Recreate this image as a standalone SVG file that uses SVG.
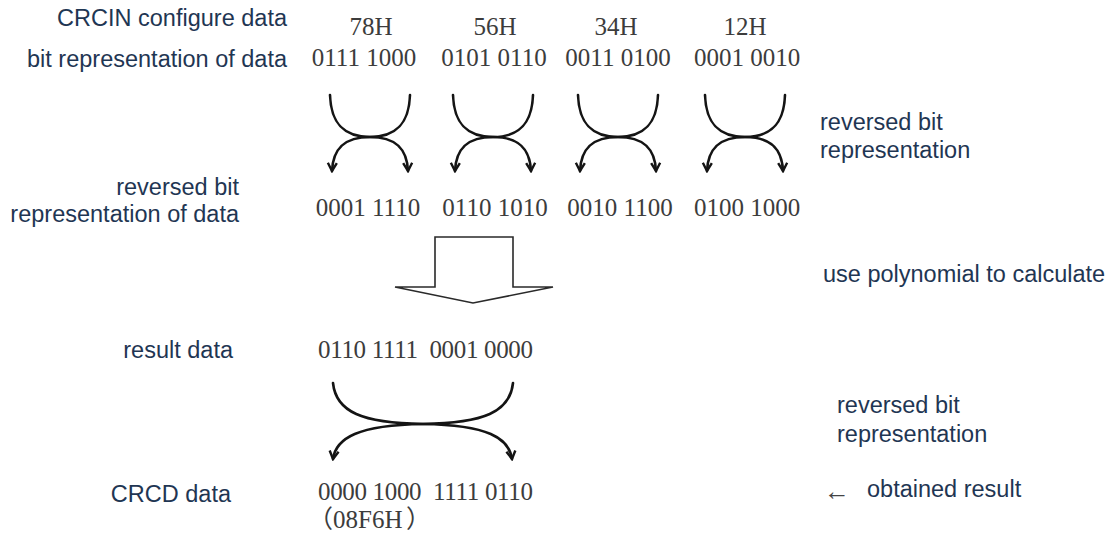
<svg xmlns="http://www.w3.org/2000/svg" width="1117" height="540" viewBox="0 0 1117 540">
<style>
.lbl{font-family:"Liberation Sans",Arial,sans-serif;font-size:23.5px;fill:#1f3653}
.num{font-family:"Liberation Serif","Noto Sans CJK SC",serif;font-size:25px;fill:#3c3c3c}
.pre{white-space:pre}
.cv{fill:none;stroke:#141414;stroke-width:2.6;stroke-linecap:round;marker-end:url(#ah)}
</style>
<defs>
<marker id="ah" viewBox="0 0 12 12" refX="10" refY="6" markerWidth="12" markerHeight="12" markerUnits="userSpaceOnUse" orient="auto">
<path d="M2,1.5 L10,6 L2,10.5" fill="none" stroke="#141414" stroke-width="2.4" stroke-linejoin="miter"/>
</marker>
</defs>
<rect width="1117" height="540" fill="#fff"/>
<g id="labels-left">
<text class="lbl" x="287" y="26" text-anchor="end">CRCIN configure data</text>
<text class="lbl" x="287" y="67" text-anchor="end">bit representation of data</text>
<text class="lbl" x="239" y="195" text-anchor="end">reversed bit</text>
<text class="lbl" x="239" y="222" text-anchor="end">representation of data</text>
<text class="lbl" x="233" y="358" text-anchor="end">result data</text>
<text class="lbl" x="231" y="502" text-anchor="end">CRCD data</text>
</g>
<g id="labels-right">
<text class="lbl" x="820" y="130">reversed bit</text>
<text class="lbl" x="820" y="158">representation</text>
<text class="lbl" x="823" y="282">use polynomial to calculate</text>
<text class="lbl" x="837" y="413">reversed bit</text>
<text class="lbl" x="837" y="442">representation</text>
<text class="lbl" x="824" y="500" style="font-size:26px;fill:#444">←</text>
<text class="lbl" x="867" y="497">obtained result</text>
</g>
<g id="hex-row">
<text class="num" x="371" y="35" text-anchor="middle">78H</text>
<text class="num" x="495" y="35" text-anchor="middle">56H</text>
<text class="num" x="616" y="35" text-anchor="middle">34H</text>
<text class="num" x="745" y="35" text-anchor="middle">12H</text>
</g>
<g id="bit-row">
<text class="num" x="364" y="66" text-anchor="middle">0111 1000</text>
<text class="num" x="494" y="66" text-anchor="middle">0101 0110</text>
<text class="num" x="618" y="66" text-anchor="middle">0011 0100</text>
<text class="num" x="747" y="66" text-anchor="middle">0001 0010</text>
</g>
<g id="reversed-row">
<text class="num" x="368" y="216" text-anchor="middle">0001 1110</text>
<text class="num" x="495" y="216" text-anchor="middle">0110 1010</text>
<text class="num" x="620" y="216" text-anchor="middle">0010 1100</text>
<text class="num" x="747" y="216" text-anchor="middle">0100 1000</text>
</g>
<g id="result-row">
<text class="num pre" x="318" y="358" textLength="215" lengthAdjust="spacing">0110 1111  0001 0000</text>
</g>
<g id="crcd-row">
<text class="num pre" x="318" y="500" textLength="215" lengthAdjust="spacing">0000 1000  1111 0110</text>
<text class="num" y="528"><tspan x="308">（</tspan><tspan x="333">08F6H</tspan><tspan x="406">）</tspan></text>
</g>
<g id="block-arrow">
<polygon points="435,237 513,237 513,287 553,287 473,303 395,287 435,287" fill="#fff" stroke="#2a2a2a" stroke-width="1.6" stroke-linejoin="miter"/>
</g>
<g id="connectors">
<path class="cv" d="M330,95 C331,125 345,137 370,137 C395,137 407,148 408,171"/>
<path class="cv" d="M410,95 C409,125 395,137 370,137 C345,137 333,148 332,171"/>
<path class="cv" d="M453,95 C454,125 468,137 493,137 C518,137 530,148 531,171"/>
<path class="cv" d="M533,95 C532,125 518,137 493,137 C468,137 456,148 455,171"/>
<path class="cv" d="M578,95 C579,125 593,137 618,137 C643,137 655,148 656,171"/>
<path class="cv" d="M658,95 C657,125 643,137 618,137 C593,137 581,148 580,171"/>
<path class="cv" d="M705,95 C706,125 720,137 745,137 C770,137 782,148 783,171"/>
<path class="cv" d="M785,95 C784,125 770,137 745,137 C720,137 708,148 707,171"/>
<path class="cv" d="M333,383 C336,412 362,423 423,424 C488,425 509,438 512,459"/>
<path class="cv" d="M513,383 C510,412 484,423 423,424 C358,425 336,438 333,459"/>
</g>
</svg>
